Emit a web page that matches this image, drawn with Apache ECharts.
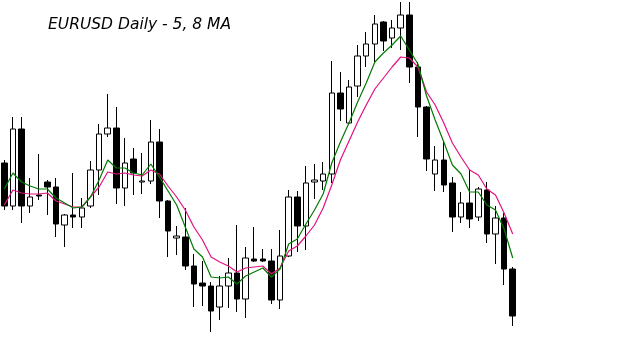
<!DOCTYPE html>
<html>
<head>
<meta charset="utf-8">
<script src="https://cdn.jsdelivr.net/npm/echarts@6/dist/echarts.min.js"></script>
<style>html,body{margin:0;padding:0;background:#fff;}#c{width:625px;height:362px;}</style>
</head>
<body>
<div id="c"></div>
<script>
// [open, close, low, high]
var candles = [
[1.337,1.294,1.290,1.340],[1.294,1.371,1.290,1.383],[1.371,1.294,1.277,1.383],[1.294,1.303,1.287,1.322],
[1.305,1.304,1.300,1.346],[1.318,1.313,1.285,1.320],[1.313,1.276,1.263,1.322],[1.275,1.285,1.253,1.286],
[1.285,1.283,1.272,1.327],[1.283,1.292,1.272,1.302],[1.294,1.330,1.292,1.339],[1.330,1.366,1.305,1.376],
[1.366,1.372,1.363,1.406],[1.372,1.312,1.296,1.393],[1.312,1.337,1.294,1.362],[1.341,1.327,1.305,1.352],
[1.318,1.319,1.306,1.347],[1.319,1.358,1.316,1.380],[1.358,1.299,1.282,1.371],[1.299,1.269,1.243,1.300],
[1.262,1.264,1.245,1.274],[1.263,1.234,1.230,1.292],[1.234,1.216,1.193,1.246],[1.217,1.214,1.194,1.239],
[1.214,1.189,1.168,1.218],[1.193,1.214,1.180,1.224],[1.214,1.227,1.192,1.242],[1.227,1.201,1.188,1.275],
[1.201,1.242,1.182,1.253],[1.241,1.239,1.238,1.273],[1.241,1.239,1.238,1.251],[1.239,1.200,1.196,1.251],
[1.200,1.244,1.191,1.270],[1.244,1.303,1.243,1.310],[1.303,1.274,1.248,1.309],[1.274,1.317,1.250,1.334],
[1.318,1.320,1.301,1.336],[1.319,1.326,1.310,1.338],[1.326,1.407,1.317,1.439],[1.407,1.391,1.379,1.428],
[1.377,1.413,1.376,1.420],[1.414,1.444,1.403,1.455],[1.444,1.456,1.433,1.468],[1.456,1.476,1.438,1.485],
[1.478,1.459,1.449,1.479],[1.462,1.472,1.452,1.480],[1.472,1.485,1.450,1.498],[1.485,1.433,1.417,1.498],
[1.433,1.393,1.363,1.438],[1.393,1.341,1.329,1.394],[1.326,1.340,1.309,1.354],[1.340,1.315,1.308,1.358],
[1.317,1.283,1.268,1.323],[1.283,1.297,1.277,1.308],[1.297,1.281,1.272,1.331],[1.283,1.311,1.279,1.313],
[1.310,1.266,1.257,1.318],[1.266,1.282,1.236,1.294],[1.282,1.231,1.215,1.287],[1.231,1.184,1.174,1.233]
];
var ma5 = [1.311,1.327,1.318,1.314,1.311,1.311,1.302,1.297,1.292,1.293,1.303,1.320,1.340,1.332,1.332,1.327,1.325,1.336,1.323,1.309,
1.295,1.273,1.251,1.243,1.223,1.222,1.223,1.216,1.224,1.228,1.232,1.223,1.231,1.256,1.261,1.276,1.290,1.306,1.337,1.358,
1.377,1.398,1.417,1.438,1.447,1.455,1.464,1.450,1.436,1.404,1.380,1.358,1.335,1.326,1.308,1.308,1.295,1.290,1.271,1.242];
var ma8 = [1.295,1.310,1.307,1.306,1.306,1.307,1.299,1.296,1.293,1.293,1.303,1.313,1.328,1.326,1.327,1.325,1.324,1.330,1.326,1.314,
1.303,1.290,1.273,1.260,1.243,1.238,1.234,1.228,1.232,1.233,1.234,1.226,1.232,1.249,1.254,1.264,1.275,1.292,1.315,1.340,
1.359,1.378,1.395,1.411,1.422,1.433,1.443,1.442,1.433,1.408,1.395,1.377,1.357,1.343,1.330,1.325,1.311,1.305,1.287,1.266];
var days = candles.map(function(_, i){ return 'D' + (i + 1); });

var chart = echarts.init(document.getElementById('c'), null, {renderer: 'canvas'});
chart.setOption({
  animation: false,
  backgroundColor: '#ffffff',
  title: {
    text: 'EURUSD Daily - 5, 8 MA',
    left: 43, top: 12,
    textStyle: {fontFamily: 'DejaVu Sans', fontStyle: 'italic', fontWeight: 'normal', fontSize: 15.5, color: '#000'}
  },
  grid: {left: -5.66, width: 522.7, top: 0, bottom: 0},
  xAxis: {type: 'category', data: days, boundaryGap: true, show: false},
  yAxis: {type: 'value', min: 1.138, max: 1.5, show: false, splitLine: {show: false}},
  series: [
    {
      type: 'candlestick', data: candles, barWidth: 6,
      itemStyle: {color: '#ffffff', color0: '#000000', borderColor: '#000000', borderColor0: '#000000', borderWidth: 1}
    },
    {type: 'line', data: ma8, symbol: 'none', lineStyle: {color: '#e0137f', width: 1.2}},
    {type: 'line', data: ma5, symbol: 'none', lineStyle: {color: '#007a00', width: 1.2}}
  ]
});
</script>
</body>
</html>
